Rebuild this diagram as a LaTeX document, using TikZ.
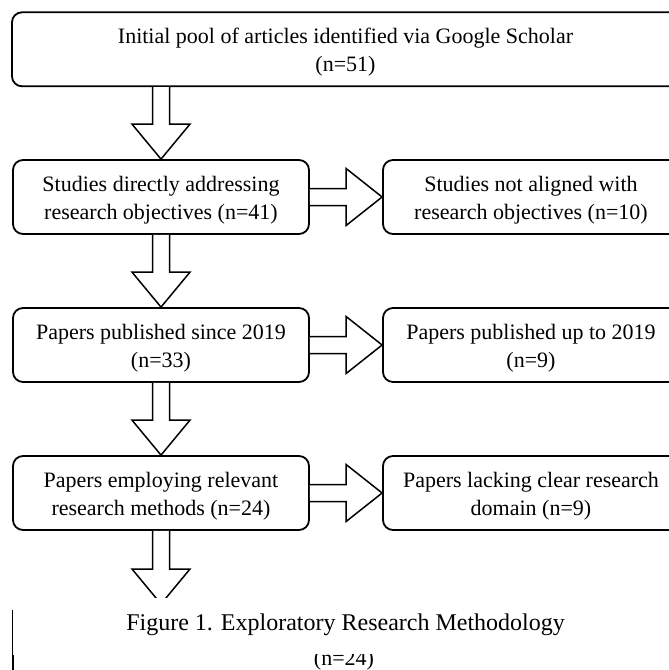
\documentclass[tikz,border=0pt]{standalone}
\usepackage{fontspec}
\setmainfont{Liberation Serif}
\usetikzlibrary{calc}
\newcommand\topstrut{\rule{0pt}{22pt}}
\newcommand\botstrut{\rule[-5pt]{0pt}{5pt}}
\tikzset{
  box/.style={draw, line width=1.8pt, rounded corners=10pt, inner sep=0pt,
    minimum width=296pt, minimum height=74pt, align=center,
    font=\fontsize{22pt}{28pt}\selectfont},
  widebox/.style={box, minimum width=667pt},
  blockarr/.style={draw, line width=1.5pt, line join=miter, fill=white},
  captxt/.style={font=\fontsize{24pt}{28pt}\selectfont, inner sep=0pt, anchor=base},
  boxtxt/.style={font=\fontsize{22pt}{28pt}\selectfont, inner sep=0pt, anchor=base}
}
% vertical block arrow from #1 (bottom) to #2 (top)
\newcommand\vblock[2]{%
  \path[blockarr] let \p1=(#1.south -| #2.north), \p2=(#2.north) in
    (\x1-8.5pt,\y1) -- (\x1-8.5pt,\y2+35pt) -- (\x1-29pt,\y2+35pt) --
    (\x2,\y2) -- (\x1+29pt,\y2+35pt) -- (\x1+8.5pt,\y2+35pt) -- (\x1+8.5pt,\y1);}
% horizontal block arrow from #1 (right side) to #2 (left side)
\newcommand\hblock[2]{%
  \path[blockarr] let \p1=(#1.east), \p2=(#2.west |- #1.east) in
    (\x1,\y1+8.5pt) -- (\x2-36pt,\y1+8.5pt) -- (\x2-36pt,\y1+28.5pt) --
    (\x2,\y2) -- (\x2-36pt,\y1-28.5pt) -- (\x2-36pt,\y1-8.5pt) -- (\x1,\y1-8.5pt);}
\begin{document}
\begin{tikzpicture}[x=1pt,y=-1pt]
\clip (0,0) rectangle (669,670);
\fill[white] (0,0) rectangle (669,670);

\node[widebox] (pool) at (345.5,49.3) {\topstrut Initial pool of articles identified via Google Scholar\\(n=51)\botstrut};
\node[box] (direct) at (161,197) {\topstrut Studies directly addressing\\research objectives (n=41)\botstrut};
\node[box] (notal) at (531,197) {\topstrut Studies not aligned with\\research objectives (n=10)\botstrut};
\node[box] (since) at (161,345) {\topstrut Papers published since 2019\\(n=33)\botstrut};
\node[box] (upto) at (531,345) {\topstrut Papers published up to 2019\\(n=9)\botstrut};
\node[box] (methods) at (161,493) {\topstrut Papers employing relevant\\research methods (n=24)\botstrut};
\node[box] (lacking) at (531,493) {\topstrut Papers lacking clear research\\domain (n=9)\botstrut};
\coordinate (finaltop) at (161,604);

\vblock{pool}{direct}
\vblock{direct}{since}
\vblock{since}{methods}
\hblock{direct}{notal}
\hblock{since}{upto}
\hblock{methods}{lacking}

\begin{scope}
  \clip (0,0) rectangle (669,597);
  \path[blockarr] let \p1=(methods.south), \p2=(finaltop) in
    (\x1-8.5pt,\y1) -- (\x1-8.5pt,\y2+35pt) -- (\x1-29pt,\y2+35pt) --
    (\x2,\y2) -- (\x1+29pt,\y2+35pt) -- (\x1+8.5pt,\y2+35pt) -- (\x1+8.5pt,\y1);
\end{scope}

\node[captxt] (caption) at (345.6,630) {Figure 1. Exploratory Research Methodology};

\coordinate (edgeA) at (12.8,610);
\coordinate (edgeB) at (12.8,655);
\coordinate (edgeC) at (12.8,670);
\draw[line width=0.7pt] (edgeA) -- (edgeB);
\draw[line width=1.5pt] (edgeB) -- (edgeC);

\begin{scope}
  \clip (0,654) rectangle (669,670);
  \node[boxtxt] (finaln) at (344,665) {(n=24)};
\end{scope}
\end{tikzpicture}
\end{document}
